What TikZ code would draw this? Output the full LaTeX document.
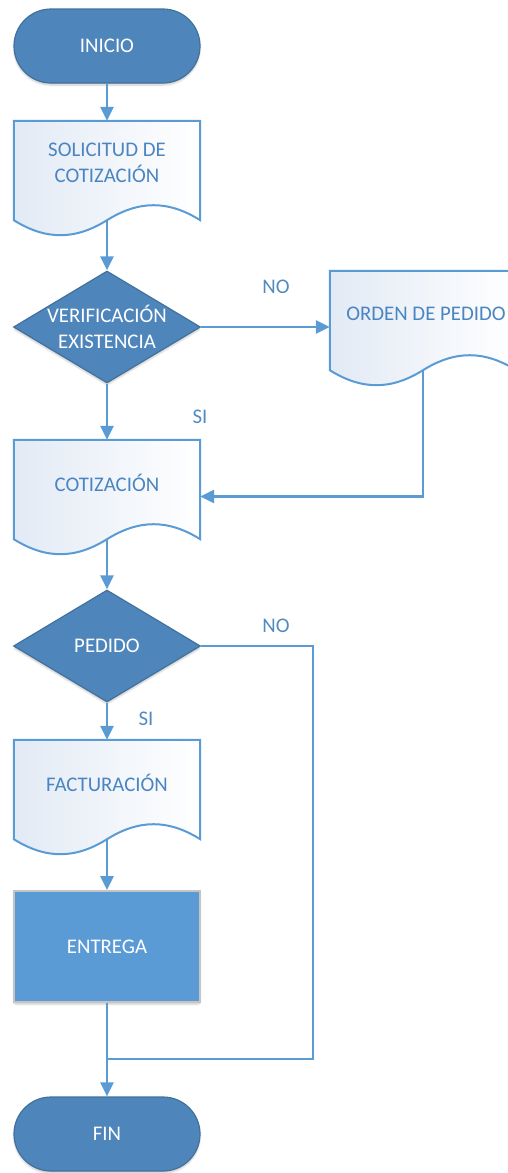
\documentclass[tikz,border=0pt]{standalone}
\usepackage{fontspec}
\setmainfont{Carlito}
\usetikzlibrary{shapes.geometric,arrows.meta,calc,shadows.blur}
\definecolor{darkfill}{HTML}{4E86BC}
\definecolor{darkedge}{HTML}{41719C}
\definecolor{linec}{HTML}{5B9BD5}
\definecolor{doctext}{HTML}{4A85C1}
\definecolor{docshade}{HTML}{E2EAF5}
\definecolor{entfill}{HTML}{5B9BD5}
\definecolor{entedge}{HTML}{C4C4C4}
\newcommand\docpath[1]{%
  \path[docline] (#1.south west) -- (#1.north west) -- (#1.north east) -- (#1.south east)
    .. controls +(-32,20) and +(32,20) .. (#1.south)
    .. controls +(-32,-20) and +(32,-20) .. (#1.south west) -- cycle;}
\begin{document}
\begin{tikzpicture}[x=1pt,y=1pt,
  font=\fontsize{20.8}{25.5}\selectfont,
  softshadow/.style={blur shadow={shadow blur steps=6, shadow blur extra rounding=2pt, shadow xshift=0pt, shadow yshift=-2pt, shadow opacity=22}},
  term/.style={rectangle, rounded corners=37pt, minimum width=186pt, minimum height=74pt, fill=darkfill, draw=darkedge, line width=1.2pt, text=white, softshadow},
  dia/.style={diamond, minimum width=187pt, minimum height=112pt, inner sep=0pt, fill=darkfill, draw=darkedge, line width=1.2pt, softshadow},
  docbox/.style={rectangle, minimum width=186pt, minimum height=99pt, inner sep=0pt},
  docline/.style={draw=linec, line width=2pt, left color=docshade, right color=white},
  proc/.style={rectangle, minimum width=186pt, minimum height=111pt, fill=entfill, draw=entedge, line width=1.8pt, text=white, softshadow},
  dtext/.style={text=doctext, align=center},
  wtext/.style={text=white, align=center},
  flow/.style={draw=linec, line width=2.5pt, -{Triangle[length=14pt,width=13pt]}},
  plain/.style={draw=linec, line width=2.5pt},
  lbl/.style={text=linec!90!black}
]
\useasboundingbox (0,0) rectangle (508,-1173);
% shapes
\node[term] (ini) at (107,-46) {INICIO};
\node[docbox] (sol) at (107,-170.5) {};
\docpath{sol}
\node[dtext] (solt) at (107,-163) {SOLICITUD DE\\COTIZACIÓN};
\node[dia] (ver) at (107,-327) {};
\node[wtext] (vert) at (107,-327) {VERIFICACIÓN\\EXISTENCIA};
\node[docbox] (ord) at (423,-320.5) {};
\docpath{ord}
\node[dtext] (ordt) at (426,-314) {ORDEN DE PEDIDO};
\node[docbox] (cot) at (107,-489.5) {};
\docpath{cot}
\node[dtext] (cott) at (107,-483) {COTIZACIÓN};
\node[dia] (ped) at (107,-646) {};
\node[wtext] (pedt) at (107,-646) {PEDIDO};
\node[docbox] (fac) at (107,-789.5) {};
\docpath{fac}
\node[dtext] (fact) at (107,-783) {FACTURACIÓN};
\node[proc] (ent) at (107,-946.5) {ENTREGA};
\node[term] (fin) at (107,-1134) {FIN};
% labels
\node[lbl] (no1) at (276,-287) {NO};
\node[lbl] (si1) at (200,-417) {SI};
\node[lbl] (no2) at (276,-626) {NO};
\node[lbl] (si2) at (146,-719) {SI};
% connectors
\coordinate (jr) at (313,-1059);
\coordinate (jn) at (107,-1059);
\draw[flow] (ini.south) -- (sol.north);
\draw[flow] (sol.south) -- (ver.north);
\draw[flow] (ver.east) -- (ver.east -| ord.west);
\draw[flow] (ord.south) |- ([yshift=-7pt]cot.east);
\draw[flow] (ver.south) -- (cot.north);
\draw[flow] (cot.south) -- (ped.north);
\draw[plain] (ped.east) -| (jr) -- (jn);
\draw[flow] (ped.south) -- (fac.north);
\draw[flow] (fac.south) -- (ent.north);
\draw[flow] (ent.south) -- (fin.north);
\end{tikzpicture}
\end{document}
